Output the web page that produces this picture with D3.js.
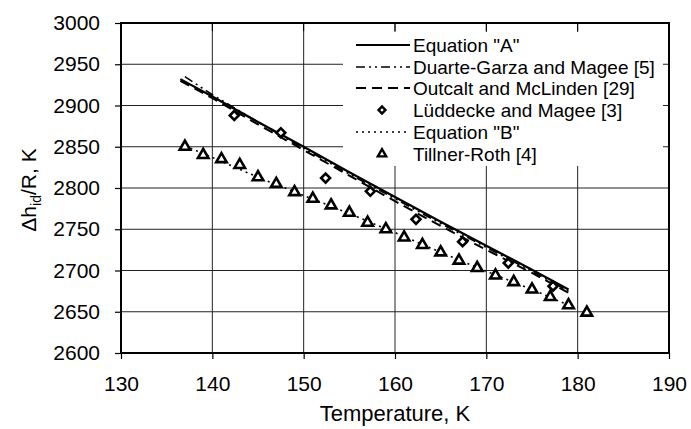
<!DOCTYPE html>
<html><head><meta charset="utf-8">
<script src="https://cdn.jsdelivr.net/npm/d3@7"></script>
<style>body{margin:0;background:#fff}svg{display:block}text{font-family:"Liberation Sans",Arial,sans-serif;fill:#000}</style>
</head><body><svg id="c" width="691" height="429"></svg>
<script>
// Data
const xTicks = [130,140,150,160,170,180,190];
const yTicks = [2600,2650,2700,2750,2800,2850,2900,2950,3000];
const eqA_T = [136.5,140,145,150,155,160,165,170,175,179];
const eqA_V = [2932,2911,2880,2850,2819,2789,2759,2730,2701,2677];
const duarte_T = [137,140,145,150,155,160,165,170,175,179];
const duarte_V = [2935,2913,2880,2848,2817,2787,2757,2728,2699,2675];
const outcalt_T = [136.5,140,145,150,155,160,165,170,175,179];
const outcalt_V = [2930,2909,2877,2846,2815,2784,2754,2725,2697,2673];
const eqB_T = [137,140,145,150,155,160,165,170,175,179];
const eqB_V = [2851,2837,2813,2791,2769,2746,2722,2699,2677,2658];
const lud_T = [142.4,147.5,152.4,157.3,162.3,167.4,172.4,177.3];
const lud_V = [2888,2867,2812,2796,2762,2735,2709,2681];
const till_T = [137,139,141,143,145,147,149,151,153,155,157,159,161,163,165,167,169,171,173,175,177,179,181];
const till_V = [2850,2840,2835,2828,2813,2805,2795,2787,2779,2770,2758,2750,2740,2731,2722,2712,2703,2694,2686,2677,2668,2658,2649];
const legendLabels = ['Equation "A"','Duarte-Garza and Magee [5]','Outcalt and McLinden [29]','Lüddecke and Magee [3]','Equation "B"','Tillner-Roth [4]'];

const svg = d3.select('#c');
const L=121,R=669,T=23,B=353;
const x = d3.scaleLinear().domain([130,190]).range([L,R]);
const y = d3.scaleLinear().domain([2600,3000]).range([B,T]);

// grid
const g = svg.append('g');
g.selectAll('.hg').data(yTicks).join('line').attr('x1',L).attr('x2',R).attr('y1',d=>y(d)).attr('y2',d=>y(d)).attr('stroke','#222').attr('stroke-width',1);
g.selectAll('.vg').data(xTicks).join('line').attr('y1',T).attr('y2',B).attr('x1',d=>x(d)).attr('x2',d=>x(d)).attr('stroke','#222').attr('stroke-width',1);

// legend background
svg.append('rect').attr('x',343).attr('y',32).attr('width',320).attr('height',134).attr('fill','#fff');

// small ticks on top border
svg.selectAll('.tt').data(xTicks.slice(1,-1)).join('line').attr('x1',d=>x(d)).attr('x2',d=>x(d)).attr('y1',T).attr('y2',T+8).attr('stroke','#000').attr('stroke-width',1);

// frame
svg.append('rect').attr('x',L).attr('y',T).attr('width',R-L).attr('height',B-T).attr('fill','none').attr('stroke','#000').attr('stroke-width',2);

// axes
const xa = svg.append('g').attr('transform',`translate(0,${B})`).call(d3.axisBottom(x).tickValues(xTicks).tickSize(6).tickPadding(17).tickFormat(d3.format('d')));
const ya = svg.append('g').attr('transform',`translate(${L},0)`).call(d3.axisLeft(y).tickValues(yTicks).tickSize(6).tickPadding(15).tickFormat(d3.format('d')));
[xa,ya].forEach(a=>{a.select('.domain').remove();a.selectAll('line').attr('stroke','#000').attr('stroke-width',1.2);a.selectAll('text').attr('font-size',21).attr('font-family','"Liberation Sans",Arial,sans-serif').attr('fill','#000');});

// lines
const line = d3.line().x(d=>x(d[0])).y(d=>y(d[1]));
const zip=(a,b)=>a.map((v,i)=>[v,b[i]]);
const styles = [
 {d:zip(eqA_T,eqA_V), dash:null, w:2.2},
 {d:zip(duarte_T,duarte_V), dash:'9,4,2,4,2,4', w:1.6},
 {d:zip(outcalt_T,outcalt_V), dash:'10,6', w:2},
 {d:zip(eqB_T,eqB_V), dash:'2,4', w:1.6}
];
styles.forEach(s=>svg.append('path').datum(s.d).attr('d',line).attr('fill','none').attr('stroke','#000').attr('stroke-width',s.w).attr('stroke-dasharray',s.dash));

// markers
const diamond = d3.symbol().type(d3.symbolSquare).size(40);
svg.selectAll('.dm').data(zip(lud_T,lud_V)).join('path').attr('d',diamond)
 .attr('transform',d=>`translate(${x(d[0])},${y(d[1])}) rotate(45)`).attr('fill','#fff').attr('stroke','#000').attr('stroke-width',2.6);
const tri = d3.symbol().type(d3.symbolTriangle).size(48);
svg.selectAll('.tr').data(zip(till_T,till_V)).join('path').attr('d',tri)
 .attr('transform',d=>`translate(${x(d[0])},${y(d[1])})`).attr('fill','#fff').attr('stroke','#000').attr('stroke-width',2.6);

// legend
const ly=[45,67,88,110,132,154];
const lg = svg.append('g');
legendLabels.forEach((t,i)=>{
  lg.append('text').attr('x',413).attr('y',ly[i]).attr('dy','0.35em').attr('font-size',19).text(t);
});
const lsx1=356, lsx2=410;
[[0,null,2.2],[1,'9,4,2,4,2,4',1.6],[2,'10,6',2],[4,'2,4',1.6]].forEach(([i,dash,w])=>{
  lg.append('line').attr('x1',lsx1).attr('x2',lsx2).attr('y1',ly[i]).attr('y2',ly[i]).attr('stroke','#000').attr('stroke-width',w).attr('stroke-dasharray',dash);
});
lg.append('path').attr('d',d3.symbol().type(d3.symbolSquare).size(24)).attr('transform',`translate(382,${ly[3]}) rotate(45)`).attr('fill','#fff').attr('stroke','#000').attr('stroke-width',2.4);
lg.append('path').attr('d',d3.symbol().type(d3.symbolTriangle).size(30)).attr('transform',`translate(382,${ly[5]})`).attr('fill','#fff').attr('stroke','#000').attr('stroke-width',2.4);

// titles
svg.append('text').attr('x',(L+R)/2).attr('y',421).attr('text-anchor','middle').attr('font-size',22).text('Temperature, K');
const yt = svg.append('text').attr('transform','translate(36,190) rotate(-90)').attr('text-anchor','middle').attr('font-size',21);
yt.append('tspan').text('Δh');
yt.append('tspan').attr('font-size',14).attr('dy',5).text('id');
yt.append('tspan').attr('dy',-5).text('/R, K');
</script></body></html>
